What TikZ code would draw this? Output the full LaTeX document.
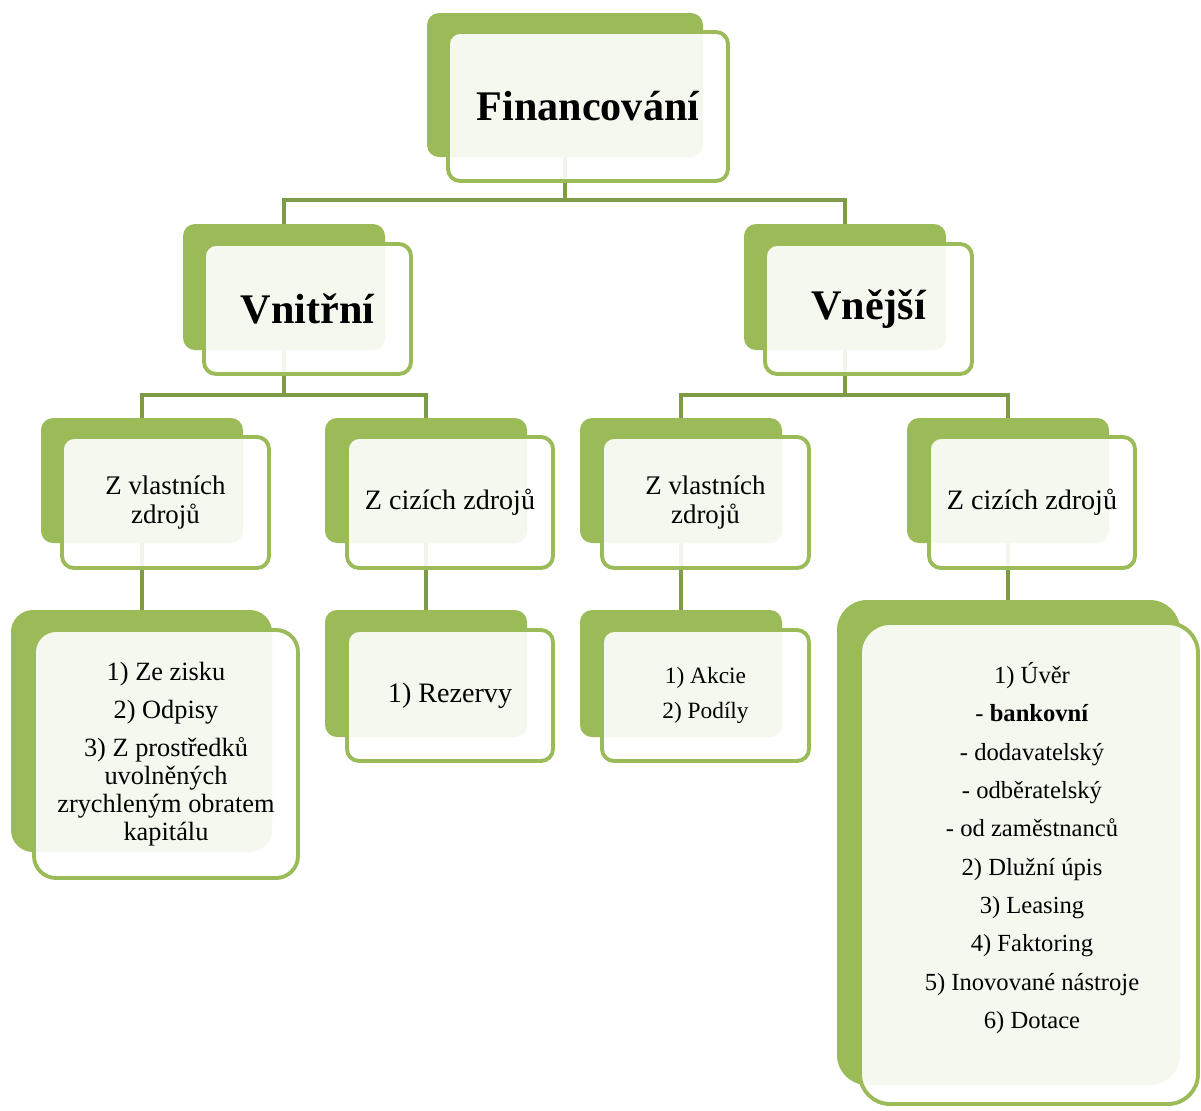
\documentclass[tikz,border=0pt]{standalone}
\usepackage{fontspec}
\setmainfont{Liberation Serif}
\usetikzlibrary{fit,backgrounds}
\definecolor{smgreen}{RGB}{155,187,89}
\definecolor{smline}{RGB}{126,155,72}
\begin{document}
\begin{tikzpicture}[x=0.02cm,y=-0.02cm]
	\tikzstyle{back}=[fill=smgreen,inner sep=0pt,rounded corners=0.24cm]
	\tikzstyle{front}=[draw=smgreen,line width=2.2pt,fill=white,fill opacity=0.9,text opacity=1,inner sep=0pt,rounded corners=0.24cm,align=center]
	\tikzset{boxsize/.style 2 args={minimum width=#1*0.02cm,minimum height=#2*0.02cm}}
	\tikzstyle{link}=[draw=smline,line width=2.6pt]
	\tikzstyle{head}=[font=\fontsize{24}{28}\selectfont\bfseries]
	\tikzstyle{sub}=[font=\fontsize{15.3}{16}\selectfont]
	\useasboundingbox (0,0) rectangle (1201,1110);
	\node[back,fit={(427,13) (703,157)}] (finb) {};
	\node[front,head,boxsize={280}{149}] (fin) at (588,106.5) {Financování};
	\node[back,fit={(183,224) (385,350)}] (vnib) {};
	\node[front,head,boxsize={207}{130}] (vni) at (307.5,309) {Vnitřní};
	\node[back,fit={(744,224) (946,350)}] (vnjb) {};
	\node[front,head,boxsize={207}{130}] (vnj) at (868.5,309) {Vnější};
	\node[back,fit={(41,418) (243,543)}] (zvlab) {};
	\node[front,sub,boxsize={207}{131}] (zvla) at (165.5,502.5) {Z vlastních\\zdrojů};
	\node[back,fit={(325,418) (527,543)}] (zcizb) {};
	\node[front,font=\fontsize{16}{18}\selectfont,boxsize={206}{131}] (zciz) at (450,502.5) {Z cizích zdrojů};
	\node[back,fit={(580,418) (782,543)}] (zvlbb) {};
	\node[front,sub,boxsize={207}{131}] (zvlb) at (705.5,502.5) {Z vlastních\\zdrojů};
	\node[back,fit={(907,418) (1109,543)}] (zcibb) {};
	\node[front,font=\fontsize{16}{18}\selectfont,boxsize={206}{131}] (zcib) at (1032,502.5) {Z cizích zdrojů};
	\node[back,rounded corners=0.44cm,fit={(11,610) (272,852)}] (intb) {};
	\node[front,rounded corners=0.44cm,font=\fontsize{15}{16}\selectfont,boxsize={264}{248}] (int) at (166,754) {1) Ze zisku\\[5.6pt]2) Odpisy\\[5.6pt]3) Z prostředků\\uvolněných\\zrychleným obratem\\kapitálu};
	\node[back,fit={(325,610) (527,737)}] (rezb) {};
	\node[front,font=\fontsize{16}{18}\selectfont,boxsize={206}{131}] (rez) at (450,695.5) {1) Rezervy};
	\node[back,fit={(580,610) (782,737)}] (akcb) {};
	\node[front,font=\fontsize{13.3}{20}\selectfont,boxsize={207}{131}] (akc) at (705.5,695.5) {1) Akcie\\2) Podíly};
	\node[back,rounded corners=0.6cm,fit={(837,600) (1180,1085)}] (uverb) {};
	\node[front,rounded corners=0.6cm,boxsize={338}{481}] (uver) at (1029,863.5) {};
	\node[align=center,font=\fontsize{14}{21.8}\selectfont] (uvertext) at (1032,848) {1) Úvěr\\- \textbf{bankovní}\\- dodavatelský\\- odběratelský\\- od zaměstnanců\\2) Dlužní úpis\\3) Leasing\\4) Faktoring\\5) Inovované nástroje\\6) Dotace};
	\coordinate (bus0) at (0,200);
	\coordinate (bus1) at (0,395);
	\begin{scope}[on background layer]
		\draw[link] (finb) -- (finb |- bus0) -| (vnib);
		\draw[link] (finb |- bus0) -| (vnjb);
		\draw[link] (vnib) -- (vnib |- bus1) -| (zvlab);
		\draw[link] (vnib |- bus1) -| (zcizb);
		\draw[link] (vnjb) -- (vnjb |- bus1) -| (zvlbb);
		\draw[link] (vnjb |- bus1) -| (zcibb);
		\draw[link] (zvlab) -- (zvlab |- intb);
		\draw[link] (zcizb) -- (zcizb |- rezb);
		\draw[link] (zvlbb) -- (zvlbb |- akcb);
		\draw[link] (zcibb) -- (zcibb |- uverb);
	\end{scope}
\end{tikzpicture}
\end{document}
